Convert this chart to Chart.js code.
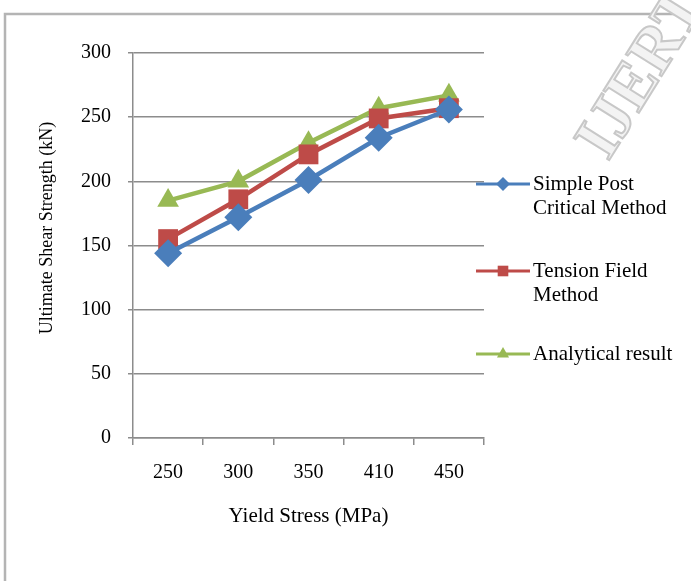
<!DOCTYPE html>
<html>
<head>
<meta charset="utf-8">
<script src="https://cdn.jsdelivr.net/npm/chart.js@4.4.0/dist/chart.umd.min.js"></script>
<style>
  html, body { margin: 0; padding: 0; background: #fff; }
  #wrap { position: relative; width: 691px; height: 581px; }
</style>
</head>
<body>
<div id="wrap"><canvas id="chart-area" width="691" height="581"></canvas></div>
<script>
var categories = ["250", "300", "350", "410", "450"];
var simplePost = [144, 172, 201, 234, 256];
var tensionField = [155, 186, 221, 249, 257];
var analytical = [185, 200, 230, 257, 267];
var yTicks = [0, 50, 100, 150, 200, 250, 300];

var seriesNames = [["Simple Post", "Critical Method"], ["Tension Field", "Method"], ["Analytical result"]];
var yTitle = "Ultimate Shear Strength (kN)";
var xTitle = "Yield Stress (MPa)";
var watermark = "IJERT";
var palette = ["#4A7EBB", "#BE4B48", "#98B954"];
var pointStyles = ["rectRot", "rect", "triangle"];
var pointSizes = [14, 14, 12.5];
var legendSizes = [7, 7.5, 7];

var gridColor = "#8c8c8c";
var font = "'Liberation Serif', 'Times New Roman', serif";

// page frame, watermark, y title and legend drawn by hand (multi-line labels)
var framePlugin = {
    id: "frame",
    beforeDraw: function (chart) {
        var ctx = chart.ctx;
        ctx.save();
        ctx.strokeStyle = "#b4b4b4";
        ctx.lineWidth = 2.5;
        ctx.strokeRect(5, 14, 720, 620);
        ctx.restore();

        ctx.save();
        ctx.translate(608, 162);
        ctx.rotate(-58 * Math.PI / 180);
        ctx.font = "bold 64px " + font;
        ctx.textBaseline = "alphabetic";
        ctx.fillStyle = "#f3f3f3";
        ctx.strokeStyle = "#c8c8c8";
        ctx.lineWidth = 2;
        ctx.fillText(watermark, 0, 0);
        ctx.strokeText(watermark, 0, 0);
        ctx.restore();
    },
    afterDraw: function (chart) {
        var ctx = chart.ctx;
        ctx.save();
        // y axis title
        ctx.translate(47, 228);
        ctx.rotate(-Math.PI / 2);
        ctx.fillStyle = "#000";
        ctx.font = "18px " + font;
        ctx.textAlign = "center";
        ctx.textBaseline = "middle";
        ctx.fillText(yTitle, 0, 0);
        ctx.restore();

        var rows = [184, 271, 354];
        ctx.save();
        for (var i = 0; i < chart.data.datasets.length; i++) {
            var ds = chart.data.datasets[i];
            var y = rows[i];
            ctx.strokeStyle = ds.borderColor;
            ctx.lineWidth = 3;
            ctx.beginPath();
            ctx.moveTo(476, y);
            ctx.lineTo(530, y);
            ctx.stroke();
            ctx.fillStyle = ds.backgroundColor;
            Chart.helpers.drawPoint(ctx, { pointStyle: ds.pointStyle, radius: legendSizes[i], rotation: 0, borderWidth: 0 }, 503, y);
            ctx.fillStyle = "#000";
            ctx.font = "21px " + font;
            ctx.textBaseline = "middle";
            ctx.textAlign = "left";
            var lines = seriesNames[i];
            for (var j = 0; j < lines.length; j++) {
                ctx.fillText(lines[j], 533, y + j * 24);
            }
        }
        ctx.restore();
    }
};

function makeDataset(idx, values) {
    return {
        label: seriesNames[idx].join(" "),
        data: values,
        borderColor: palette[idx],
        backgroundColor: palette[idx],
        borderWidth: 4.5,
        pointStyle: pointStyles[idx],
        pointRadius: pointSizes[idx],
        pointBorderWidth: 0,
        tension: 0
    };
}

var config = {
    type: "line",
    data: {
        labels: categories,
        datasets: [makeDataset(0, simplePost), makeDataset(1, tensionField), makeDataset(2, analytical)]
    },
    options: {
        responsive: false,
        animation: false,
        layout: { padding: { left: 0, top: 53, right: 207, bottom: 52 } },
        plugins: { legend: { display: false }, tooltip: { enabled: false } },
        scales: {
            x: {
                type: "category",
                offset: true,
                afterFit: function (s) { s.height = 91; },
                grid: { display: true, drawOnChartArea: false, drawTicks: true, tickLength: 7, offset: true, color: gridColor, lineWidth: 1.5 },
                border: { display: true, color: gridColor, width: 1.5 },
                ticks: { color: "#000", padding: 16, font: { family: font, size: 20 } },
                title: { display: true, text: xTitle, color: "#000", padding: 0, font: { family: font, size: 21 } }
            },
            y: {
                min: 0,
                max: 300,
                afterFit: function (s) { s.width = 133; },
                afterBuildTicks: function (s) { s.ticks = yTicks.map(function (v) { return { value: v }; }); },
                grid: { color: gridColor, lineWidth: 1.5, drawTicks: true, tickLength: 5 },
                border: { display: true, color: gridColor, width: 1.5 },
                ticks: { color: "#000", padding: 17, font: { family: font, size: 20 } },
                title: { display: false }
            }
        }
    },
    plugins: [framePlugin]
};

var ctx = document.getElementById("chart-area").getContext("2d");
window.myLine = new Chart(ctx, config);
</script>
</body>
</html>
